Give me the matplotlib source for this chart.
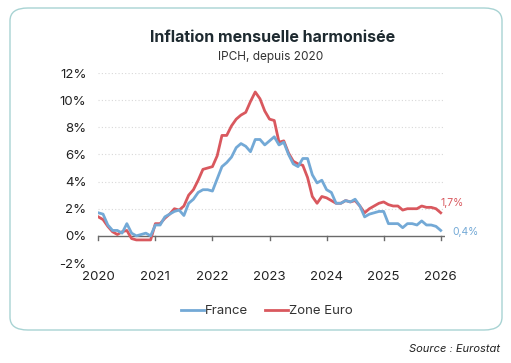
import matplotlib
matplotlib.use("Agg")
import matplotlib.pyplot as plt
from matplotlib.patches import FancyBboxPatch
import numpy as np

plt.rcParams['font.family'] = ['Inter', 'DejaVu Sans']

# Monthly data, Jan 2020 -> Jan 2026
france = [1.7, 1.6, 0.8, 0.4, 0.4, 0.2, 0.9, 0.2, 0.0, 0.1, 0.2, 0.0,
          0.8, 0.8, 1.4, 1.6, 1.8, 1.9, 1.5, 2.4, 2.7, 3.2, 3.4, 3.4,
          3.3, 4.2, 5.1, 5.4, 5.8, 6.5, 6.8, 6.6, 6.2, 7.1, 7.1, 6.7,
          7.0, 7.3, 6.7, 6.9, 6.0, 5.3, 5.1, 5.7, 5.7, 4.5, 3.9, 4.1,
          3.4, 3.2, 2.4, 2.4, 2.6, 2.5, 2.7, 2.2, 1.4, 1.6, 1.7, 1.8,
          1.8, 0.9, 0.9, 0.9, 0.6, 0.9, 0.9, 0.8, 1.1, 0.8, 0.8, 0.7,
          0.4]
zone_euro = [1.4, 1.2, 0.7, 0.3, 0.1, 0.3, 0.4, -0.2, -0.3, -0.3, -0.3, -0.3,
             0.9, 0.9, 1.3, 1.6, 2.0, 1.9, 2.2, 3.0, 3.4, 4.1, 4.9, 5.0,
             5.1, 5.9, 7.4, 7.4, 8.1, 8.6, 8.9, 9.1, 9.9, 10.6, 10.1, 9.2,
             8.6, 8.5, 6.9, 7.0, 6.1, 5.5, 5.3, 5.2, 4.3, 2.9, 2.4, 2.9,
             2.8, 2.6, 2.4, 2.4, 2.6, 2.5, 2.6, 2.2, 1.7, 2.0, 2.2, 2.4,
             2.5, 2.3, 2.2, 2.2, 1.9, 2.0, 2.0, 2.0, 2.2, 2.1, 2.1, 2.0,
             1.7]
year_ticks = [2020, 2021, 2022, 2023, 2024, 2025, 2026]
y_ticks = [-2, 0, 2, 4, 6, 8, 10, 12]
last_labels = ["0,4%", "1,7%"]

blue = '#73a9d6'
red = '#d9585e'

x = 2020 + np.arange(len(france)) / 12.0

fig = plt.figure(figsize=(5.11, 3.63), dpi=100)
W, H = 511, 363

# rounded frame
box = FancyBboxPatch((10 / W, 1 - 330 / H), (502 - 10) / W, (330 - 8) / H,
                     boxstyle="round,pad=0,rounding_size=0.035",
                     transform=fig.transFigure, fc='white', ec='#a8d3d3', lw=1.0,
                     zorder=-10)
fig.patches.append(box)

ax = fig.add_axes([98.3 / W, 1 - 263 / H, (445 - 98.3) / W, (263 - 73) / H])
ax.set_zorder(5)
ax.set_facecolor('none')
ax.set_xlim(2020, 2026.075)
ax.set_ylim(-2, 12)

for yv in y_ticks:
    if yv != 0:
        ax.axhline(yv, color='#d8d8d8', lw=0.8, ls=(0, (1, 2)), zorder=0)
ax.axhline(0, color='#6a6a6a', lw=1.0, zorder=1)

ax.plot(x, france, color=blue, lw=2.0, label='France', zorder=3, solid_joinstyle='round')
ax.plot(x, zone_euro, color=red, lw=2.0, label='Zone Euro', zorder=2, solid_joinstyle='round')

for s in ax.spines.values():
    s.set_visible(False)

ax.set_yticks(y_ticks)
ax.set_yticklabels([f"{v}%" for v in y_ticks], fontsize=9.5, color='#222222')
ax.tick_params(axis='y', length=0, pad=8.5)
ax.set_xticks([])
for yr in year_ticks:
    ax.plot([yr, yr], [0, -0.3], color='#6a6a6a', lw=1.0, clip_on=False, zorder=1)
    ax.text(yr, -2.6, str(yr), ha='center', va='top', fontsize=9.5, color='#222222')

ax.text(x[-1] - 0.01, 2.43, last_labels[1], color=red, fontsize=7.5,
        ha='left', va='center', clip_on=False)
ax.text(x[-1] + 0.2, 0.32, last_labels[0], color=blue, fontsize=7.5,
        ha='left', va='center', clip_on=False)

fig.text(273 / W, 1 - 37 / H, "Inflation mensuelle harmonisée", ha='center', va='center',
         fontsize=11.5, fontweight='bold', color='#1e2a30')
fig.text(271 / W, 1 - 57 / H, "IPCH, depuis 2020", ha='center', va='center',
         fontsize=8.5, color='#333333')

leg = fig.legend(loc='center', bbox_to_anchor=(267 / W, 1 - 311 / H), ncol=2, frameon=False,
                 fontsize=9.5, handlelength=1.7, handletextpad=0.1, columnspacing=1.3)
for t in leg.get_texts():
    t.set_color('#333333')

fig.text(500 / W, 1 - 349 / H, "Source : Eurostat", ha='right', va='center',
         fontsize=8, style='italic', color='#222222')

fig.savefig('out.png', dpi=100, facecolor='white')
